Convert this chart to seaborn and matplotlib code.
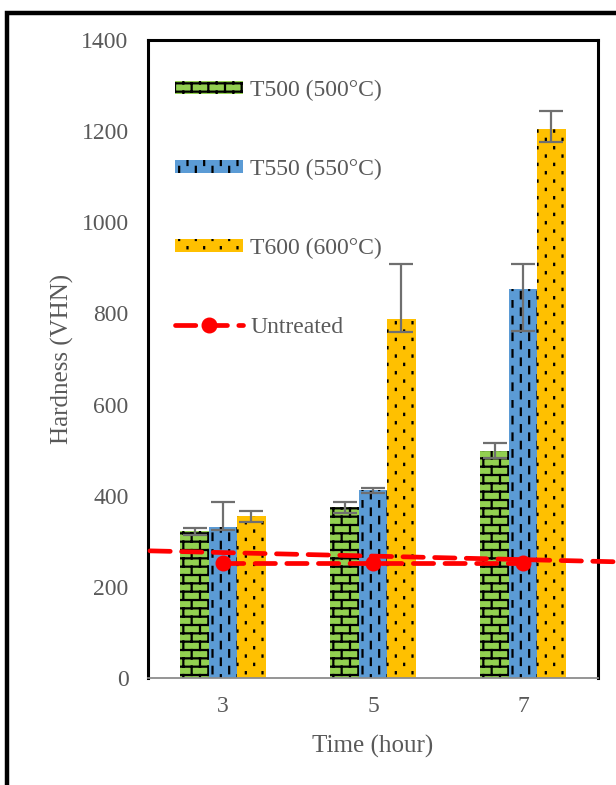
import warnings
warnings.filterwarnings("ignore")
import numpy as np
import pandas as pd
import matplotlib
matplotlib.use("Agg")
import matplotlib.pyplot as plt
import matplotlib.hatch as mhatch
from matplotlib.path import Path
from matplotlib.patches import Patch, Rectangle
from matplotlib.lines import Line2D
import seaborn as sns

# ---------------- data ----------------
times = ["3", "5", "7"]
series = ["T500 (500°C)", "T550 (550°C)", "T600 (600°C)"]
t500 = [322, 375, 499]
t550 = [331, 412, 853]
t600 = [355, 788, 1205]
t500_err_lo = [8, 12, 16]
t500_err_hi = [8, 12, 16]
t550_err_lo = [6, 6, 92]
t550_err_hi = [55, 6, 55]
t600_err_lo = [12, 29, 29]
t600_err_hi = [12, 121, 40]
untreated = [252, 252, 252]
untreated_label = "Untreated"
trend_x = [-0.487, 2.62]
trend_y = [279, 255]

colors = ["#92D050", "#5B9BD5", "#FFC000"]
text_gray = "#595959"

# ---------------- custom hatches ----------------
class BrickHatch(mhatch.HatchPatternBase):
    def __init__(self, hatch, density):
        n = hatch.count("b")
        self.rows = 12 * n
        self.cols = 6 * n
        self.num_vertices = 2 * (self.rows + 1) + 2 * self.rows * (self.cols + 1) if n else 0

    def set_vertices_and_codes(self, vertices, codes):
        i = 0
        for k in range(self.rows + 1):
            y = k / self.rows
            vertices[i] = (0, y); vertices[i + 1] = (1, y)
            codes[i] = Path.MOVETO; codes[i + 1] = Path.LINETO
            i += 2
        for k in range(self.rows):
            y0 = k / self.rows
            y1 = (k + 1) / self.rows
            for j in range(self.cols + 1):
                x = (j + 0.5 * (k % 2)) / self.cols
                vertices[i] = (x, y0); vertices[i + 1] = (x, y1)
                codes[i] = Path.MOVETO; codes[i + 1] = Path.LINETO
                i += 2


class StaggerHatch(mhatch.HatchPatternBase):
    char = "d"
    seg = 0.07

    def __init__(self, hatch, density):
        n = hatch.count(self.char)
        self.cols = 12 * n
        self.rows = 6 * n
        self.num_vertices = 2 * self.cols * self.rows

    def set_vertices_and_codes(self, vertices, codes):
        i = 0
        for c in range(self.cols):
            x = (c + 0.5) / self.cols
            for r in range(self.rows):
                y0 = (r + 0.5 * (c % 2) + 0.1) / self.rows
                vertices[i] = (x, y0); vertices[i + 1] = (x, y0 + self.seg)
                codes[i] = Path.MOVETO; codes[i + 1] = Path.LINETO
                i += 2


class DashHatch(StaggerHatch):
    char = "d"
    seg = 0.065


class DotHatch(StaggerHatch):
    char = "p"
    seg = 0.012


mhatch._hatch_types.extend([BrickHatch, DashHatch, DotHatch])
hatches = ["b", "d", "p"]

# ---------------- style ----------------
sns.set_style("white")
plt.rcParams["font.family"] = ["Liberation Serif", "DejaVu Serif"]
plt.rcParams["hatch.linewidth"] = 1.6
plt.rcParams["hatch.color"] = "black"

df = pd.DataFrame({
    "Time": times * 3,
    "Series": np.repeat(series, 3),
    "Hardness": t500 + t550 + t600,
})

fig = plt.figure(figsize=(6.16, 7.85), dpi=100)
ax = fig.add_axes([148 / 616, 1 - 678 / 785, 450 / 616, 638 / 785])

sns.barplot(data=df, x="Time", y="Hardness", hue="Series", order=times,
            hue_order=series, palette=colors, width=0.567, errorbar=None,
            saturation=1, ax=ax, legend=False)

err_lo = [t500_err_lo, t550_err_lo, t600_err_lo]
err_hi = [t500_err_hi, t550_err_hi, t600_err_hi]
vals = [t500, t550, t600]
bar_conts = list(ax.containers)
for ci, cont in enumerate(bar_conts):
    xs = []
    for bar in cont.patches:
        bar.set_edgecolor("black")
        bar.set_linewidth(0)
        bar.set_hatch(hatches[ci])
        xs.append(bar.get_x() + bar.get_width() / 2)
    ax.errorbar(xs, vals[ci], yerr=[err_lo[ci], err_hi[ci]], fmt="none",
                ecolor="#6f6f6f", elinewidth=1.6, capsize=8.5, capthick=1.6,
                zorder=4)

pos = np.arange(len(times))
red_kw = dict(color="#FF0000", lw=3.4, dashes=(4.3, 2.4), dash_capstyle="round",
              clip_on=False, zorder=6)
ax.plot(trend_x, trend_y, **red_kw)
ax.plot(pos, untreated, marker="o", ms=10.5, **red_kw)

ax.set_ylim(0, 1400)
ax.set_xlim(-0.5, 2.5)
ax.set_yticks(np.arange(0, 1401, 200))
ax.tick_params(axis="both", length=0, labelsize=17, colors=text_gray)
ax.tick_params(axis="y", pad=14)
ax.tick_params(axis="x", pad=13)
ax.set_xlabel("Time (hour)", fontsize=18, color=text_gray, labelpad=13)
ax.set_ylabel("Hardness (VHN)", fontsize=18, color=text_gray, labelpad=5)

for s in ["top", "left", "right"]:
    ax.spines[s].set_visible(True)
    ax.spines[s].set_color("black")
    ax.spines[s].set_linewidth(2.2)
ax.spines["bottom"].set_color("#8c8c8c")
ax.spines["bottom"].set_linewidth(1.3)

handles = [Patch(facecolor=colors[i], edgecolor="black", linewidth=0,
                 hatch=hatches[i]) for i in range(3)]
handles.append(Line2D([], [], color="#FF0000", lw=3.4, dashes=(4.3, 2.4),
                      dash_capstyle="round", marker="o", ms=10.5))
leg = ax.legend(handles, series + [untreated_label], loc="upper left",
                bbox_to_anchor=(0.059, 0.9375), frameon=False, fontsize=17,
                handlelength=2.9, handleheight=0.5, handletextpad=0.3,
                labelspacing=2.45, borderpad=0, borderaxespad=0, numpoints=1)
for t in leg.get_texts():
    t.set_color(text_gray)

fig.add_artist(Rectangle((7 / 616, -0.5), 2.0, 1.5 - 13 / 785,
                         transform=fig.transFigure, fill=False,
                         edgecolor="black", lw=3.2))

fig.savefig("out.png", dpi=100)
